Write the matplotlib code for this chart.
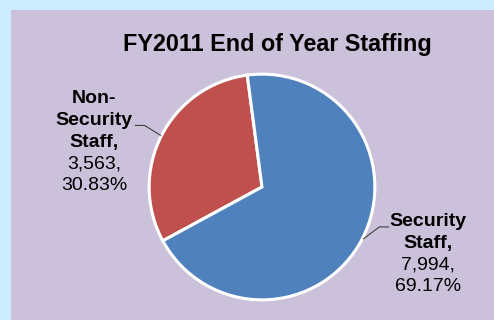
import numpy as np
import matplotlib.pyplot as plt

plt.rcParams['font.family'] = ['Liberation Sans', 'DejaVu Sans']

categories = ['Non-\nSecurity\nStaff,', 'Security\nStaff,']
counts = [3563, 7994]
percents = [30.83, 69.17]
colors = ['#C0504D', '#4F81BD']
title = 'FY2011 End of Year Staffing'

W, H = 494, 320
cx, cy, R = 262, 187, 114  # pie centre and radius in pixels

fig = plt.figure(figsize=(W / 100, H / 100), dpi=100, facecolor='#CCECFF')

# lavender chart area inside the light blue frame
bg = fig.add_axes([11 / W, 0, 1 - 11 / W, 1 - 10 / H])
bg.set_facecolor('#CCC1DA')
bg.set_xticks([])
bg.set_yticks([])
for s in bg.spines.values():
    s.set_visible(False)

ax = fig.add_axes([0, 0, 1, 1])
ax.patch.set_alpha(0)

start = 97.5
wedges, _ = ax.pie(counts, colors=colors, startangle=start, counterclock=True,
                   radius=0.99, wedgeprops=dict(edgecolor='white', linewidth=2.2))
ax.set_aspect('auto')
ax.set_xlim(-cx / R, (W - cx) / R)
ax.set_ylim(-(H - cy) / R, cy / R)
ax.axis('off')

# split point between bold name and value lines, plus leader elbows (data units)
label_pos = [(-1.47, 0.31), (1.455, -0.58)]
elbows = [((-1.03, 0.54), (-1.11, 0.54)), ((1.03, -0.35), (1.11, -0.35))]

for w, name, n, p, (lx, ly), (e1, e2) in zip(wedges, categories, counts, percents,
                                             label_pos, elbows):
    mid = np.deg2rad((w.theta1 + w.theta2) / 2)
    px, py = np.cos(mid), np.sin(mid)
    ax.plot([px, e1[0], e2[0]], [py, e1[1], e2[1]], color='#404040', lw=0.8)
    ax.text(lx, ly + 0.01, name, ha='center', va='bottom', fontsize=14,
            fontweight='bold', linespacing=1.38, multialignment='center')
    ax.text(lx, ly - 0.03, f'{n:,},\n{p:.2f}%', ha='center', va='top',
            fontsize=14, linespacing=1.38, multialignment='center')

fig.text(277 / W, 1 - 44 / H, title, ha='center', va='center', fontsize=16.8,
         fontweight='bold')

fig.savefig('out.png', dpi=100, facecolor=fig.get_facecolor())
